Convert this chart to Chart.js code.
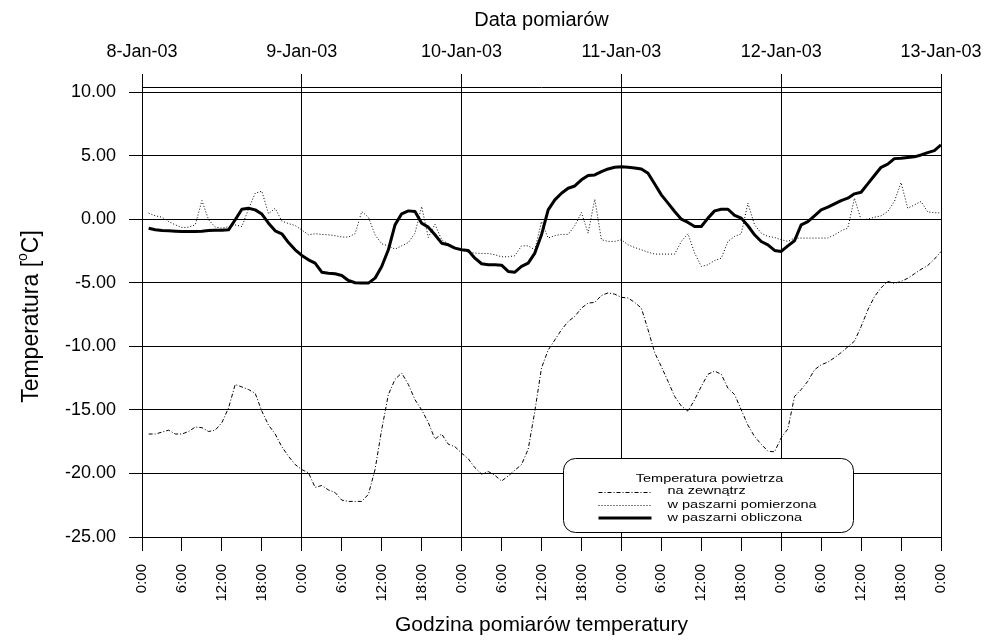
<!DOCTYPE html>
<html>
<head>
<meta charset="utf-8">
<script src="https://cdn.jsdelivr.net/npm/chart.js@4.4.1/dist/chart.umd.min.js"></script>
<style>
html,body{margin:0;padding:0;background:#fff;}
canvas{display:block;}
</style>
</head>
<body>
<canvas id="c" width="987" height="641"></canvas>
<script>
// ---- data ----
const dates = ['8-Jan-03','9-Jan-03','10-Jan-03','11-Jan-03','12-Jan-03','13-Jan-03'];
const hourLabels = ['0:00','6:00','12:00','18:00'];
const firstHour = 1; // first reading at 1:00 on 8-Jan-03, hourly readings
const seriesNames = ['na zewnątrz','w paszarni pomierzona','w paszarni obliczona'];
const legendTitle = 'Temperatura powietrza';

const outside = [
 -16.9,-16.9,-16.75,-16.6,-16.9,-16.9,-16.7,-16.35,-16.4,-16.7,-16.6,-16.0,-14.85,-13.0,-13.2,-13.4,-13.7,-15.1,-16.2,-16.9,-17.9,-18.65,-19.3,-19.7,
 -19.95,-21.1,-20.95,-21.3,-21.5,-22.1,-22.2,-22.2,-22.2,-21.65,-19.7,-16.55,-13.8,-12.6,-12.1,-13.0,-14.2,-15.0,-16.0,-17.3,-16.9,-17.7,-17.9,-18.4,
 -18.85,-19.55,-20.05,-19.85,-20.15,-20.6,-20.2,-19.75,-19.3,-18.1,-15.1,-11.7,-10.3,-9.5,-8.7,-8.05,-7.65,-7.0,-6.6,-6.55,-6.0,-5.8,-5.9,-6.15,
 -6.2,-6.55,-7.0,-8.7,-10.5,-11.6,-12.75,-13.95,-14.7,-15.1,-14.2,-13.15,-12.2,-11.95,-12.2,-13.3,-13.8,-15.0,-16.2,-17.1,-17.7,-18.25,-18.3,-17.2,
 -16.5,-13.95,-13.4,-12.75,-11.85,-11.45,-11.25,-10.9,-10.5,-10.05,-9.6,-8.45,-7.15,-6.1,-5.4,-4.9,-5.05,-4.9,-4.65,-4.3,-3.95,-3.65,-3.15,-2.55
];
const measured = [
 0.47,0.26,0.15,-0.19,-0.45,-0.66,-0.63,-0.45,1.46,-0.05,-0.63,-0.71,-0.6,-0.45,-0.58,0.8,2.04,2.2,0.42,0.86,-0.15,-0.35,-0.5,-0.85,
 -1.23,-1.15,-1.2,-1.23,-1.3,-1.41,-1.41,-1.15,0.6,0.15,-1.23,-1.94,-2.1,-2.36,-2.1,-1.84,-1.1,0.99,-1.44,-0.4,-1.62,-1.94,-2.28,-2.41,
 -2.6,-2.67,-2.7,-2.7,-2.8,-2.96,-2.96,-2.88,-2.1,-2.1,-2.41,-0.19,-1.49,-1.3,-1.2,-1.2,-0.52,0.52,-1.1,1.57,-1.62,-1.75,-1.75,-1.62,
 -2.02,-2.23,-2.41,-2.6,-2.75,-2.75,-2.75,-2.75,-1.75,-1.15,-2.67,-3.72,-3.59,-3.25,-3.07,-1.75,-1.36,-1.15,1.26,-0.45,-1.1,-1.36,-1.44,-1.62,
 -1.75,-1.49,-1.49,-1.49,-1.49,-1.49,-1.49,-1.23,-0.92,-0.71,1.65,-0.05,0.0,0.15,0.26,0.6,1.39,2.88,0.86,1.12,1.39,0.57,0.5,0.5
];
const calculated = [
 -0.71,-0.84,-0.9,-0.92,-0.95,-0.97,-0.97,-0.97,-0.95,-0.9,-0.87,-0.87,-0.84,-0.05,0.78,0.86,0.73,0.4,-0.32,-0.92,-1.15,-1.84,-2.41,-2.85,
 -3.2,-3.46,-4.17,-4.25,-4.3,-4.43,-4.82,-5.0,-5.03,-5.03,-4.64,-3.72,-2.41,-0.45,0.42,0.65,0.6,-0.32,-0.63,-1.23,-1.89,-2.02,-2.28,-2.41,
 -2.46,-3.07,-3.51,-3.59,-3.59,-3.62,-4.11,-4.17,-3.72,-3.46,-2.67,-1.23,0.73,1.52,2.04,2.43,2.61,3.09,3.43,3.48,3.74,3.95,4.08,4.13,
 4.08,4.03,3.95,3.61,2.77,1.91,1.26,0.6,0.0,-0.26,-0.58,-0.58,0.08,0.65,0.78,0.78,0.29,0.08,-0.52,-1.23,-1.76,-2.02,-2.46,-2.54,
 -2.1,-1.7,-0.45,-0.19,0.26,0.73,0.94,1.2,1.46,1.65,1.99,2.12,2.77,3.43,4.08,4.32,4.76,4.79,4.84,4.9,5.05,5.23,5.39,5.84
];

const FONT = '"Liberation Sans", Arial, Helvetica, sans-serif';
const toPts = arr => arr.map((v, i) => ({x: firstHour + i, y: v}));

const styles = [
  {borderWidth: 1, borderDash: [4, 2, 1, 2]},
  {borderWidth: 1, borderDash: [1, 2]},
  {borderWidth: 3, borderDash: []}
];

// ---- plugins ----
const extras = {
  id: 'extras',
  afterDraw(chart) {
    const ctx = chart.ctx;
    const a = chart.chartArea;
    const x2 = chart.scales.x2;
    ctx.save();
    // top axis line
    ctx.strokeStyle = '#000';
    ctx.lineWidth = 1;
    ctx.beginPath();
    const ty = Math.round(x2.bottom - 5) + 0.5;
    ctx.moveTo(x2.getPixelForValue(0), ty);
    ctx.lineTo(x2.getPixelForValue(120), ty);
    ctx.stroke();

    // y-axis title with superscript
    ctx.fillStyle = '#000';
    ctx.translate(37.5, (a.top + a.bottom) / 2 + 2);
    ctx.rotate(-Math.PI / 2);
    ctx.textBaseline = 'alphabetic';
    const big = '23px ' + FONT, small = '14px ' + FONT;
    ctx.font = big;
    const p1 = 'Temperatura [', p3 = 'C]';
    const w1 = ctx.measureText(p1).width, w3 = ctx.measureText(p3).width;
    ctx.font = small;
    const w2 = ctx.measureText('o').width;
    let sx = -(w1 + w2 + w3) / 2;
    ctx.font = big; ctx.fillText(p1, sx, 0); sx += w1;
    ctx.font = small; ctx.fillText('o', sx, -11); sx += w2;
    ctx.font = big; ctx.fillText(p3, sx, 0);
    ctx.restore();

    // legend box
    ctx.save();
    const bx = a.left + 421.5, by = a.top + 366.5, bw = 290, bh = 74, r = 12;
    ctx.beginPath();
    ctx.moveTo(bx + r, by);
    ctx.lineTo(bx + bw - r, by);
    ctx.arcTo(bx + bw, by, bx + bw, by + r, r);
    ctx.lineTo(bx + bw, by + bh - r);
    ctx.arcTo(bx + bw, by + bh, bx + bw - r, by + bh, r);
    ctx.lineTo(bx + r, by + bh);
    ctx.arcTo(bx, by + bh, bx, by + bh - r, r);
    ctx.lineTo(bx, by + r);
    ctx.arcTo(bx, by, bx + r, by, r);
    ctx.closePath();
    ctx.fillStyle = '#fff';
    ctx.fill();
    ctx.strokeStyle = '#000';
    ctx.lineWidth = 1;
    ctx.stroke();

    const sxScale = 1.45;
    ctx.font = '10px ' + FONT;
    ctx.fillStyle = '#000';
    ctx.textBaseline = 'middle';
    const drawStretched = (txt, x, y, center) => {
      const w = ctx.measureText(txt).width;
      ctx.save();
      ctx.translate(x, y);
      ctx.scale(sxScale, 1);
      ctx.fillText(txt, center ? -w / 2 : 0, 0);
      ctx.restore();
    };
    drawStretched(legendTitle, bx + 146, by + 20.5, true);
    const rowsY = [by + 33, by + 46.5, by + 59.5];
    seriesNames.forEach((name, i) => {
      const ly = Math.round(rowsY[i]) + (styles[i].borderWidth === 1 ? 0.5 : 0);
      ctx.save();
      ctx.strokeStyle = '#000';
      ctx.lineWidth = styles[i].borderWidth;
      ctx.setLineDash(styles[i].borderDash);
      ctx.beginPath();
      ctx.moveTo(bx + 35, ly);
      ctx.lineTo(bx + 88, ly);
      ctx.stroke();
      ctx.restore();
      drawStretched(name, bx + 104, rowsY[i], false);
    });
    ctx.restore();
  }
};

new Chart(document.getElementById('c'), {
  type: 'line',
  data: {
    datasets: [outside, measured, calculated].map((arr, i) => ({
      label: seriesNames[i],
      data: toPts(arr),
      borderColor: '#000',
      backgroundColor: '#000',
      borderWidth: styles[i].borderWidth,
      borderDash: styles[i].borderDash,
      pointRadius: 0,
      tension: 0,
      fill: false,
      borderJoinStyle: 'round',
      borderCapStyle: 'butt'
    }))
  },
  options: {
    responsive: false,
    animation: false,
    devicePixelRatio: 1,
    layout: {padding: {left: 0, right: 46, top: 0, bottom: 0}},
    plugins: {legend: {display: false}, tooltip: {enabled: false}},
    scales: {
      x: {
        type: 'linear', position: 'bottom', min: 0, max: 120,
        afterFit: s => { s.height = 104; s.paddingLeft = 0; s.paddingRight = 0; },
        ticks: {
          stepSize: 6, autoSkip: false, maxRotation: 90, minRotation: 90, padding: 13,
          color: '#000', font: {family: FONT, size: 15},
          callback: v => hourLabels[(v % 24) / 6]
        },
        grid: {
          color: c => (c.tick && c.tick.value % 24 === 0) ? '#000' : 'rgba(0,0,0,0)',
          tickColor: '#000', tickLength: 14, lineWidth: 1
        },
        border: {display: true, color: '#000', width: 1},
        title: {display: true, text: 'Godzina pomiarów temperatury', color: '#000',
                font: {family: FONT, size: 21}, padding: {top: 2, bottom: 3}}
      },
      x2: {
        type: 'linear', position: 'top', min: 0, max: 120,
        afterFit: s => { s.height = 92; s.paddingLeft = 0; s.paddingRight = 0; },
        ticks: {
          stepSize: 24, autoSkip: false, maxRotation: 0, minRotation: 0, padding: 11,
          color: '#000', font: {family: FONT, size: 18},
          callback: v => dates[v / 24]
        },
        grid: {display: true, drawOnChartArea: false, tickColor: '#000', tickLength: 18, lineWidth: 1},
        border: {display: false},
        title: {display: true, text: 'Data pomiarów', color: '#000',
                font: {family: FONT, size: 20}, padding: {top: 8, bottom: 0}}
      },
      y: {
        type: 'linear', position: 'left', min: -25, max: 10,
        afterFit: s => { s.width = 142; s.paddingTop = 0; s.paddingBottom = 0; },
        ticks: {
          stepSize: 5, padding: 13, color: '#000', font: {family: FONT, size: 18},
          callback: v => v.toFixed(2)
        },
        grid: {color: '#000', tickColor: '#000', tickLength: 13, lineWidth: 1},
        border: {display: true, color: '#000', width: 1}
      }
    }
  },
  plugins: [extras]
});
</script>
</body>
</html>
